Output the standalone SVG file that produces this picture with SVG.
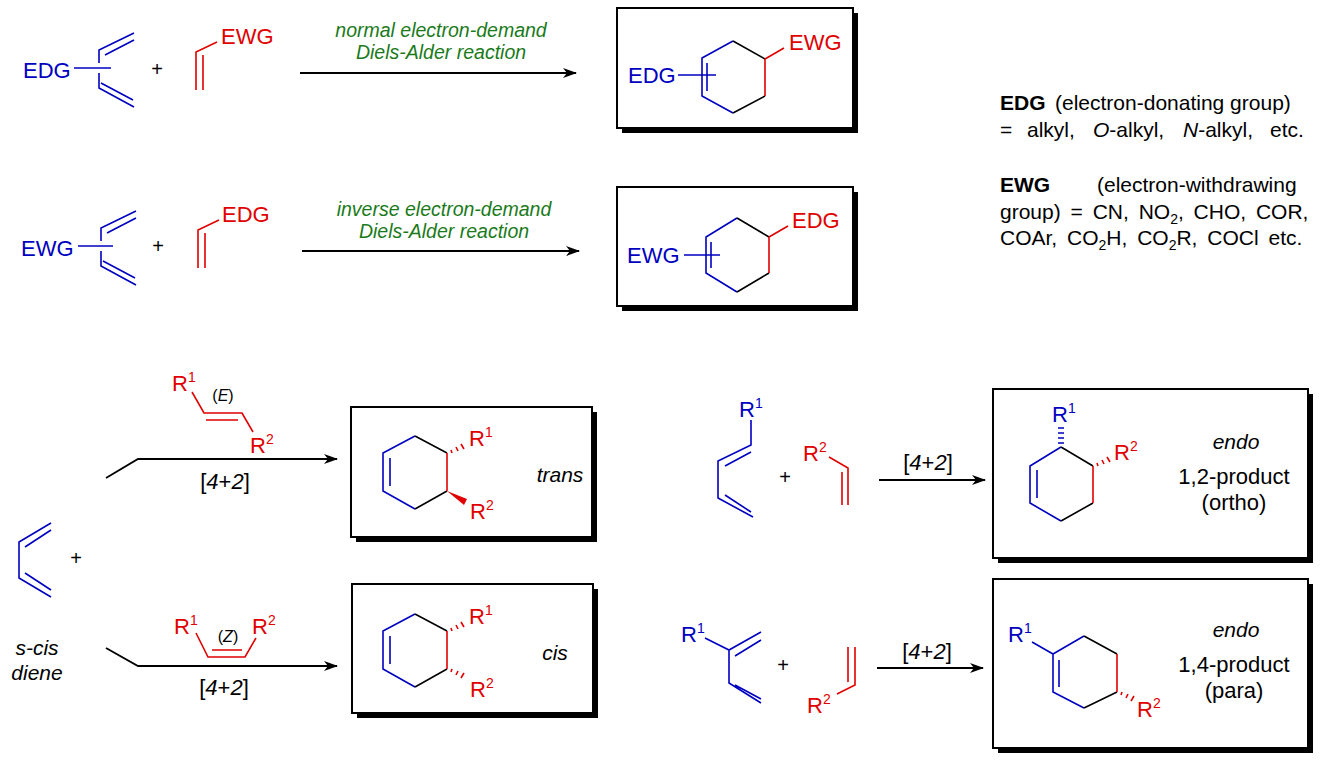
<svg xmlns="http://www.w3.org/2000/svg" width="1321" height="766" viewBox="0 0 1321 766">
<defs>
<marker id="ah" markerWidth="14" markerHeight="10" refX="13" refY="5" orient="auto" markerUnits="userSpaceOnUse"><path d="M0,0 L14,5 L0,10 L4,5 Z" fill="#000"/></marker>
</defs>
<style>
text{font-family:"Liberation Sans",Arial,sans-serif;}
.b{stroke:#0000c0;stroke-width:1.6;fill:none}
.r{stroke:#e00000;stroke-width:1.6;fill:none}
.k{stroke:#000;stroke-width:1.6;fill:none}
.bt{fill:#0000c0;font-size:22px}
.rt{fill:#e00000;font-size:22px}
.sup{font-size:14px}
.g{fill:#1a7a1a;font-size:19.5px;font-style:italic;text-anchor:middle}
.t{fill:#000;font-size:21px}
.arr{stroke:#000;stroke-width:1.8;fill:none;marker-end:url(#ah)}
.box{fill:#fff;stroke:#000;stroke-width:2}
.sh{fill:#000}
.lab{font-size:22px;text-anchor:middle}
.pl{font-size:20px;text-anchor:middle}
</style>
<rect width="1321" height="766" fill="#fff"/>

<!-- Row 1 -->
<g id="r1-diene">
<text class="bt" x="23" y="78">EDG</text>
<path class="b" d="M74,68 L111,68"/>
<path class="b" d="M99,63 L99,50 L134,33 M105,55 L134,40 M99,73 L99,88 L134,107 M101,83 L133,100"/>
</g>
<text class="pl" x="157" y="76">+</text>
<g id="r1-dienophile">
<path class="r" d="M196,90 L196,52 L217,42 M203,55 L203,90"/>
<text class="rt" x="221" y="44">EWG</text>
</g>
<g id="connectors">
<path class="arr" d="M300,73 L576,73"/>
<path class="arr" d="M302,251 L579,251"/>
<path class="arr" d="M106,478 L138,459 L337,459"/>
<path class="arr" d="M106,648 L138,666 L337,666"/>
<path class="arr" d="M879,480 L985,480"/>
<path class="arr" d="M877,668 L983,668"/>
</g>
<text class="g" x="441" y="37">normal electron-demand</text>
<text class="g" x="441" y="59">Diels-Alder reaction</text>
<g id="p1">
<rect class="sh" x="622" y="13" width="236" height="120"/>
<rect class="box" x="617" y="8" width="236" height="120"/>
<path class="b" d="M733,41 L702,58 L702,96 L733,113 M707,63 L707,91"/>
<path class="k" d="M733,41 L765,59 M765,96 L733,113"/>
<path class="r" d="M765,59 L765,96 M765,59 L784,48"/>
<path class="b" d="M678,75 L716,75" stroke-width="2.2"/>
<text class="bt" x="628" y="83">EDG</text>
<text class="rt" x="789" y="50">EWG</text>
</g>

<!-- Row 2 -->
<g id="r2-diene">
<text class="bt" x="21" y="256">EWG</text>
<path class="b" d="M78,246 L113,246"/>
<path class="b" d="M101,241 L101,228 L136,211 M107,233 L136,218 M101,251 L101,266 L136,285 M103,261 L135,278"/>
</g>
<text class="pl" x="158" y="253">+</text>
<g id="r2-dienophile">
<path class="r" d="M198,268 L198,230 L219,220 M205,233 L205,268"/>
<text class="rt" x="222" y="222">EDG</text>
</g>
<text class="g" x="444" y="216">inverse electron-demand</text>
<text class="g" x="444" y="238">Diels-Alder reaction</text>
<g id="p2">
<rect class="sh" x="622" y="192" width="236" height="119"/>
<rect class="box" x="617" y="187" width="236" height="119"/>
<path class="b" d="M737,218 L706,237 L706,273 L737,292 M711,242 L711,268"/>
<path class="k" d="M737,218 L769,237 M769,273 L737,292"/>
<path class="r" d="M769,237 L769,273 M769,237 L788,226"/>
<path class="b" d="M684,255 L720,255" stroke-width="2.2"/>
<text class="bt" x="627" y="263">EWG</text>
<text class="rt" x="792" y="228">EDG</text>
</g>

<!-- Right text -->
<g id="legend" class="t">
<text y="110"><tspan x="1000" font-weight="bold">EDG</tspan><tspan x="1055">(electron-donating group)</tspan></text>
<text y="137"><tspan x="1000">=</tspan><tspan x="1027">alkyl,</tspan><tspan x="1093"><tspan font-style="italic">O</tspan>-alkyl,</tspan><tspan x="1183"><tspan font-style="italic">N</tspan>-alkyl,</tspan><tspan x="1270">etc.</tspan></text>
<text y="192"><tspan x="1000" font-weight="bold">EWG</tspan><tspan x="1097">(electron-withdrawing</tspan></text>
<text x="1000" y="219" word-spacing="4">group) = CN, NO<tspan font-size="14" dy="5">2</tspan><tspan dy="-5">, CHO, COR,</tspan></text>
<text x="1000" y="245" word-spacing="4">COAr, CO<tspan font-size="14" dy="5">2</tspan><tspan dy="-5">H, CO</tspan><tspan font-size="14" dy="5">2</tspan><tspan dy="-5">R, COCl etc.</tspan></text>
</g>

<!-- s-cis diene -->
<g id="scis">
<path class="b" d="M51,523 L19,542 L19,578 L51,597 M25,547 L51,530 M25,573 L51,590"/>
<text class="pl" x="76" y="565">+</text>
<text x="37" y="655" font-size="21" font-style="italic" text-anchor="middle">s-cis</text>
<text x="37" y="680" font-size="21" font-style="italic" text-anchor="middle">diene</text>
</g>
<g id="e-alkene">
<path class="r" d="M192,392 L204,413 L242,413 L253,432 M206,420 L238,420"/>
<text class="rt" x="172" y="391">R<tspan class="sup" dy="-9">1</tspan></text>
<text class="rt" x="250" y="453">R<tspan class="sup" dy="-9">2</tspan></text>
<text x="223" y="401" font-size="16" text-anchor="middle">(<tspan font-style="italic">E</tspan>)</text>
</g>
<text class="lab" x="225" y="489">[<tspan font-style="italic">4</tspan>+<tspan font-style="italic">2</tspan>]</text>
<g id="trans">
<rect class="sh" x="356" y="412" width="241" height="130"/>
<rect class="box" x="351" y="407" width="241" height="130"/>
<path class="b" d="M415,436 L383,453 L383,491 L415,509 M390,458 L390,486"/>
<path class="k" d="M415,436 L447,453 M447,491 L415,509"/>
<path class="r" d="M447,453 L447,491"/>
<path class="r" d="M451,450 L452,453 M456,447 L458,451 M461,444 L464,449"/>
<path d="M447,491 L467,499 L464,505 Z" fill="#e00000"/>
<text class="rt" x="469" y="446">R<tspan class="sup" dy="-9">1</tspan></text>
<text class="rt" x="470" y="519">R<tspan class="sup" dy="-9">2</tspan></text>
<text x="560" y="482" font-size="21" font-style="italic" text-anchor="middle">trans</text>
</g>
<g id="z-alkene">
<path class="r" d="M196,633 L208,657 L245,657 L256,638 M212,650 L242,650"/>
<text class="rt" x="174" y="634">R<tspan class="sup" dy="-9">1</tspan></text>
<text class="rt" x="252" y="634">R<tspan class="sup" dy="-9">2</tspan></text>
<text x="228" y="642" font-size="16" text-anchor="middle">(<tspan font-style="italic">Z</tspan>)</text>
</g>
<text class="lab" x="224" y="695">[<tspan font-style="italic">4</tspan>+<tspan font-style="italic">2</tspan>]</text>
<g id="cis">
<rect class="sh" x="357" y="589" width="241" height="129"/>
<rect class="box" x="352" y="584" width="241" height="129"/>
<path class="b" d="M415,614 L383,631 L383,669 L415,687 M390,636 L390,664"/>
<path class="k" d="M415,614 L447,631 M447,669 L415,687"/>
<path class="r" d="M447,631 L447,669"/>
<path class="r" d="M451,628 L452,631 M456,625 L458,629 M461,622 L464,627"/>
<path class="r" d="M451,672 L452,669 M456,675 L458,671 M461,678 L464,673"/>
<text class="rt" x="469" y="624">R<tspan class="sup" dy="-9">1</tspan></text>
<text class="rt" x="470" y="697">R<tspan class="sup" dy="-9">2</tspan></text>
<text x="555" y="660" font-size="21" font-style="italic" text-anchor="middle">cis</text>
</g>

<!-- ortho -->
<g id="ortho-reactants">
<text class="bt" x="739" y="417">R<tspan class="sup" dy="-9">1</tspan></text>
<path class="b" d="M751,420 L751,445 L718,461 L718,498 L753,517 M725,466 L751,452 M725,495 L751,512"/>
<text class="pl" x="785" y="484">+</text>
<text class="rt" x="803" y="461">R<tspan class="sup" dy="-9">2</tspan></text>
<path class="r" d="M829,457 L848,468 L848,505 M842,472 L842,505"/>
</g>
<text class="lab" x="928" y="470">[<tspan font-style="italic">4</tspan>+<tspan font-style="italic">2</tspan>]</text>
<g id="ortho">
<rect class="sh" x="998" y="394" width="315" height="169"/>
<rect class="box" x="993" y="389" width="315" height="169"/>
<path class="b" d="M1061,447 L1030,466 L1030,503 L1061,521 M1037,470 L1037,498"/>
<path class="k" d="M1061,447 L1093,466 M1093,503 L1061,521"/>
<path class="r" d="M1093,466 L1093,503"/>
<path class="b" d="M1058,443 L1064,443 M1058,438 L1064,438 M1058,433 L1064,433 M1058,428 L1064,428" stroke-width="2"/>
<path class="r" d="M1097,463 L1098,466 M1102,460 L1104,464 M1107,457 L1110,462"/>
<text class="bt" x="1052" y="422">R<tspan class="sup" dy="-9">1</tspan></text>
<text class="rt" x="1114" y="460">R<tspan class="sup" dy="-9">2</tspan></text>
<text x="1236" y="449" font-size="21" font-style="italic" text-anchor="middle">endo</text>
<text x="1234" y="484" font-size="22" text-anchor="middle">1,2-product</text>
<text x="1234" y="510" font-size="22" text-anchor="middle">(ortho)</text>
</g>

<!-- para -->
<g id="para-reactants">
<text class="bt" x="681" y="642">R<tspan class="sup" dy="-9">1</tspan></text>
<path class="b" d="M705,638 L729,650 L761,632 M735,656 L761,640 M729,650 L729,683 L761,703 M735,685 L761,699"/>
<text class="pl" x="783" y="672">+</text>
<path class="r" d="M855,647 L855,685 L837,694 M848,647 L848,682"/>
<text class="rt" x="807" y="713">R<tspan class="sup" dy="-9">2</tspan></text>
</g>
<text class="lab" x="927" y="659">[<tspan font-style="italic">4</tspan>+<tspan font-style="italic">2</tspan>]</text>
<g id="para">
<rect class="sh" x="998" y="584" width="315" height="169"/>
<rect class="box" x="993" y="579" width="315" height="169"/>
<path class="b" d="M1084,636 L1053,654 L1053,692 L1084,708 M1059,660 L1059,687 M1053,654 L1032,642"/>
<path class="k" d="M1084,636 L1117,654 M1117,692 L1084,708"/>
<path class="r" d="M1117,654 L1117,692"/>
<path class="r" d="M1121,695 L1122,692 M1126,698 L1128,694 M1131,701 L1134,696"/>
<text class="bt" x="1008" y="642">R<tspan class="sup" dy="-9">1</tspan></text>
<text class="rt" x="1137" y="717">R<tspan class="sup" dy="-9">2</tspan></text>
<text x="1236" y="637" font-size="21" font-style="italic" text-anchor="middle">endo</text>
<text x="1234" y="672" font-size="22" text-anchor="middle">1,4-product</text>
<text x="1234" y="698" font-size="22" text-anchor="middle">(para)</text>
</g>
</svg>
